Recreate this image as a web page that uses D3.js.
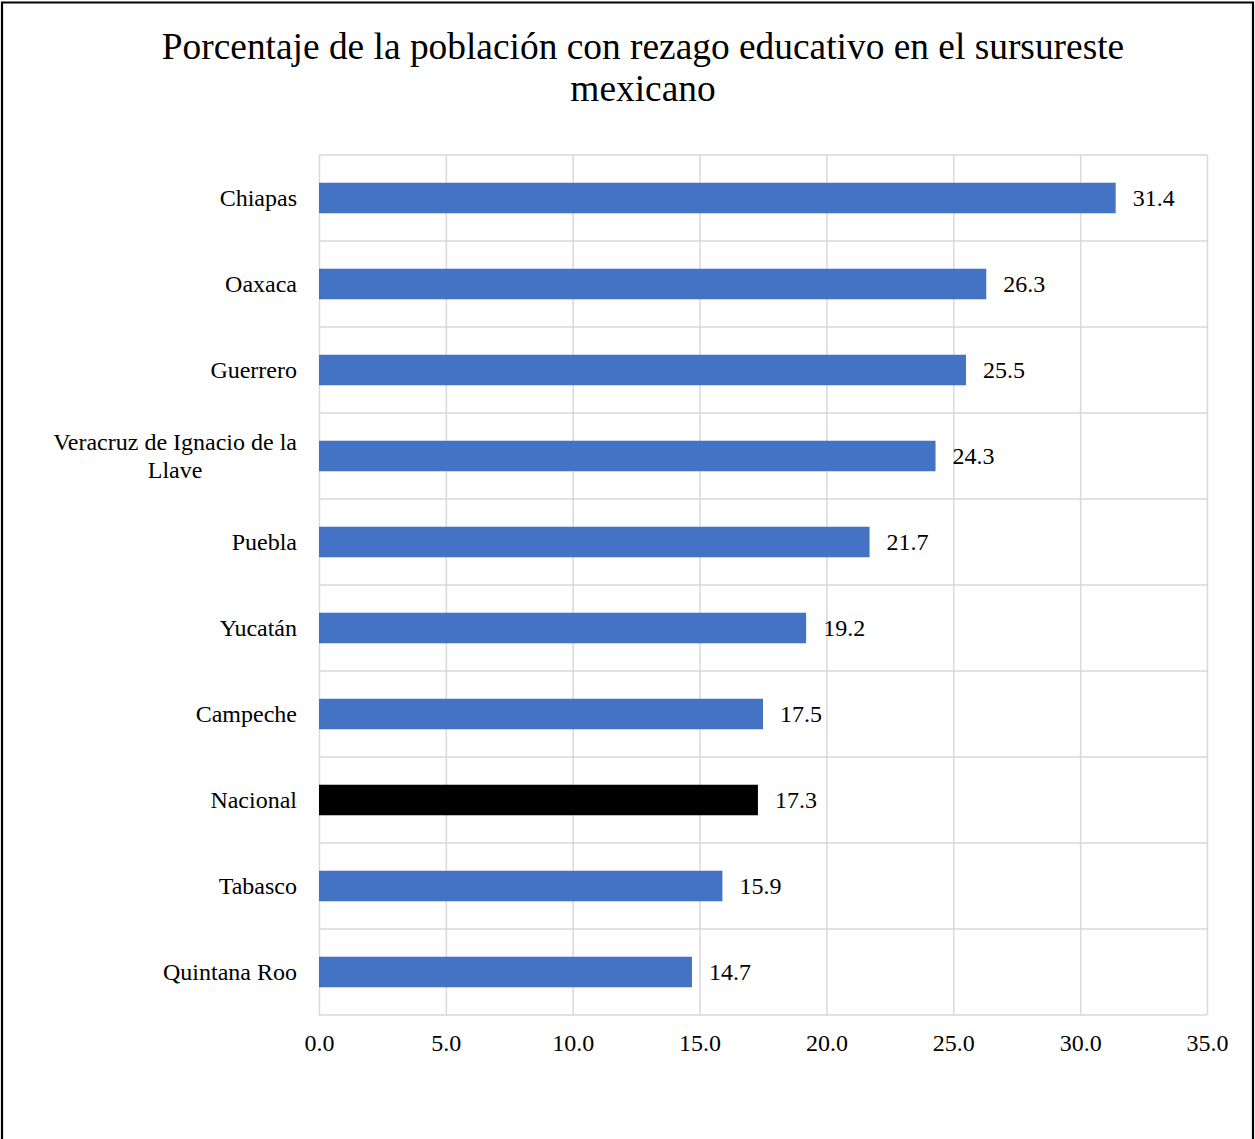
<!DOCTYPE html>
<html>
<head>
<meta charset="utf-8">
<script src="https://cdn.jsdelivr.net/npm/d3@7"></script>
<style>
  html, body { margin: 0; padding: 0; background: #fff; }
  svg { display: block; font-family: "Liberation Serif", "Times New Roman", serif; }
</style>
</head>
<body>
<svg id="chart" width="1255" height="1139"></svg>
<script>
// Porcentaje de la población con rezago educativo, estados del sursureste y total nacional
const categories = [
  "Chiapas", "Oaxaca", "Guerrero", "Veracruz de Ignacio de la Llave", "Puebla",
  "Yucatán", "Campeche", "Nacional", "Tabasco", "Quintana Roo"
];
const values = [31.4, 26.3, 25.5, 24.3, 21.7, 19.2, 17.5, 17.3, 15.9, 14.7];
const xTicks = [0, 5, 10, 15, 20, 25, 30, 35];
const titleLines = ["Porcentaje de la población con rezago educativo en el sursureste", "mexicano"];
// Etiquetas de categoría largas se parten en dos renglones
const labelLines = {
  "Veracruz de Ignacio de la Llave": ["Veracruz de Ignacio de la", "Llave"]
};

const W = 1255, H = 1139;
const plot = { left: 319, right: 1207, top: 155, bottom: 1015 };
const svg = d3.select("#chart");

// Marco exterior
svg.append("path")
  .attr("d", `M2,${H + 5} V2.5 H1253 V${H + 5}`)
  .attr("fill", "none")
  .attr("stroke", "#000")
  .attr("stroke-width", 2.2);

// Título
svg.append("text")
  .attr("x", 643)
  .attr("text-anchor", "middle")
  .attr("font-size", 37.4)
  .attr("fill", "#000")
  .selectAll("tspan")
  .data(titleLines)
  .join("tspan")
  .attr("x", 643)
  .attr("y", (d, i) => 59 + i * 42)
  .text(d => d);

const x = d3.scaleLinear().domain([0, 35]).range([plot.left, plot.right]);
const y = d3.scaleBand().domain(categories).range([plot.top, plot.bottom]).padding(0);
const step = y.step();
const barH = step * 0.355;

const gridColor = "#d9d9d9";

// Líneas de cuadrícula verticales
svg.append("g")
  .attr("transform", `translate(0,${plot.bottom})`)
  .call(d3.axisBottom(x).tickValues(xTicks).tickSize(-(plot.bottom - plot.top)).tickFormat(""))
  .call(g => g.select(".domain").remove())
  .call(g => g.selectAll(".tick line").attr("stroke", gridColor).attr("stroke-width", 1.5));

// Líneas horizontales entre categorías
const boundaries = categories.map(c => y(c)).concat([plot.bottom]);
svg.append("g")
  .selectAll("line")
  .data(boundaries)
  .join("line")
  .attr("x1", plot.left)
  .attr("x2", plot.right)
  .attr("y1", d => d)
  .attr("y2", d => d)
  .attr("stroke", gridColor)
  .attr("stroke-width", 1.5);

// Barras
svg.append("g")
  .selectAll("rect")
  .data(categories)
  .join("rect")
  .attr("x", x(0))
  .attr("y", c => y(c) + (step - barH) / 2)
  .attr("width", (c, i) => x(values[i]) - x(0))
  .attr("height", barH)
  .attr("fill", c => c === "Nacional" ? "#000000" : "#4472C4");

// Etiquetas de valor
svg.append("g")
  .selectAll("text")
  .data(categories)
  .join("text")
  .attr("x", (c, i) => x(values[i]) + 17)
  .attr("y", c => y(c) + step / 2 + 8)
  .attr("font-size", 24)
  .attr("fill", "#000")
  .text((c, i) => values[i].toFixed(1));

// Etiquetas de categoría (eje vertical)
const catG = svg.append("g");
categories.forEach(c => {
  const lines = labelLines[c] || [c];
  const cy = y(c) + step / 2;
  if (lines.length === 1) {
    catG.append("text")
      .attr("x", 297)
      .attr("y", cy + 8)
      .attr("text-anchor", "end")
      .attr("font-size", 24)
      .attr("fill", "#000")
      .text(c);
  } else {
    const t = catG.append("text")
      .attr("font-size", 24)
      .attr("fill", "#000")
      .attr("text-anchor", "middle");
    const spans = t.selectAll("tspan").data(lines).join("tspan")
      .attr("y", (d, i) => cy - 6 + i * 27.5)
      .text(d => d);
    // centrar el bloque con su borde derecho en x = 297
    const widest = d3.max(spans.nodes(), n => n.getComputedTextLength());
    spans.attr("x", 297 - widest / 2);
  }
});

// Eje horizontal
svg.append("g")
  .attr("transform", `translate(0,${plot.bottom})`)
  .call(d3.axisBottom(x).tickValues(xTicks).tickSize(0).tickPadding(19).tickFormat(d3.format(".1f")))
  .call(g => g.select(".domain").remove())
  .call(g => g.selectAll("text")
    .attr("font-size", 24)
    .attr("font-family", "Liberation Serif, Times New Roman, serif")
    .attr("fill", "#000"));
</script>
</body>
</html>
